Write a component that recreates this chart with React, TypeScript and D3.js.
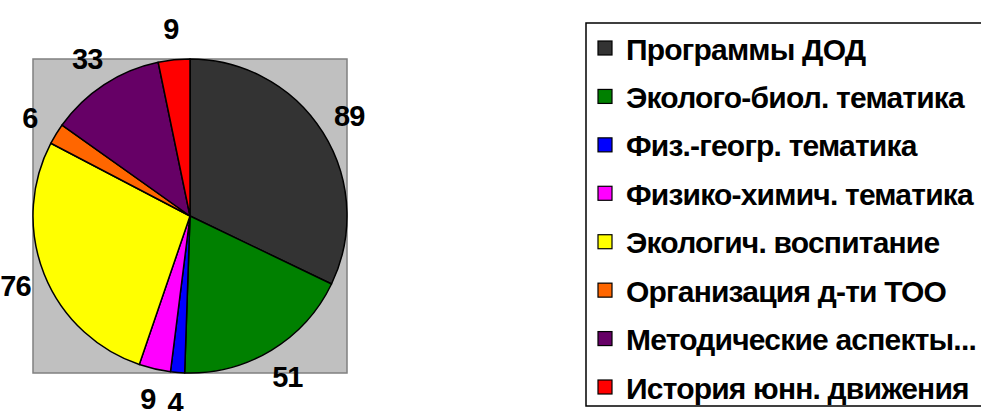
import * as d3 from "d3";

const categories = [
  "Программы ДОД",
  "Эколого-биол. тематика",
  "Физ.-геогр. тематика",
  "Физико-химич. тематика",
  "Экологич. воспитание",
  "Организация д-ти ТОО",
  "Методические аспекты...",
  "История юнн. движения",
];
const values = [89, 51, 4, 9, 76, 6, 33, 9];
const colors = ["#333333", "#008000", "#0000ff", "#ff00ff", "#ffff00", "#ff6600", "#660066", "#ff0000"];

const width = 981;
const height = 411;
const cx = 190;
const cy = 216;
const radius = 157;
const labelRadius = 188;

export default function App() {
  const data = categories.map((c, i) => ({ category: c, value: values[i] }));

  const pie = d3
    .pie<{ category: string; value: number }>()
    .value((d) => d.value)
    .sort(null);
  const arc = d3.arc<d3.PieArcDatum<{ category: string; value: number }>>()
    .innerRadius(0)
    .outerRadius(radius);
  const arcLabel = d3.arc<d3.PieArcDatum<{ category: string; value: number }>>()
    .innerRadius(labelRadius)
    .outerRadius(labelRadius);
  const arcs = pie(data);

  const color = d3.scaleOrdinal<string, string>().domain(categories).range(colors);

  const legendY = d3.scalePoint<string>().domain(categories).range([48, 387]);

  return (
    <svg
      width={width}
      height={height}
      style={{ position: "absolute", left: 0, top: 0, display: "block" }}
      fontFamily="'Liberation Sans', Arial, sans-serif"
      fontWeight="bold"
    >
      <rect x={0} y={0} width={width} height={height} fill="white" />

      {/* plot area */}
      <rect x={cx - radius} y={cy - radius} width={radius * 2} height={radius * 2} fill="#c0c0c0" stroke="#808080" strokeWidth={1.5} />

      <g transform={`translate(${cx},${cy})`}>
        {arcs.map((d) => (
          <path key={d.data.category} d={arc(d) ?? ""} fill={color(d.data.category)} stroke="black" strokeWidth={1.5} strokeLinejoin="round" />
        ))}
        {arcs.map((d, i) => {
          const [x, y] = arcLabel.centroid(d);
          return (
            <text key={"l" + i} x={x} y={y} textAnchor="middle" dominantBaseline="central" fontSize={29} letterSpacing={-1} fill="black">
              {d.data.value}
            </text>
          );
        })}
      </g>

      {/* Legend */}
      <rect x={586} y={23} width={420} height={383} fill="white" stroke="black" strokeWidth={1.5} />
      {categories.map((c) => {
        const y = legendY(c) ?? 0;
        return (
          <g key={c}>
            <rect x={598} y={y - 7} width={14} height={14} fill={color(c)} stroke="black" strokeWidth={1.2} />
            <text x={626} y={y + 1} dominantBaseline="central" fontSize={30} letterSpacing={-0.8} fill="black">
              {c}
            </text>
          </g>
        );
      })}
    </svg>
  );
}
